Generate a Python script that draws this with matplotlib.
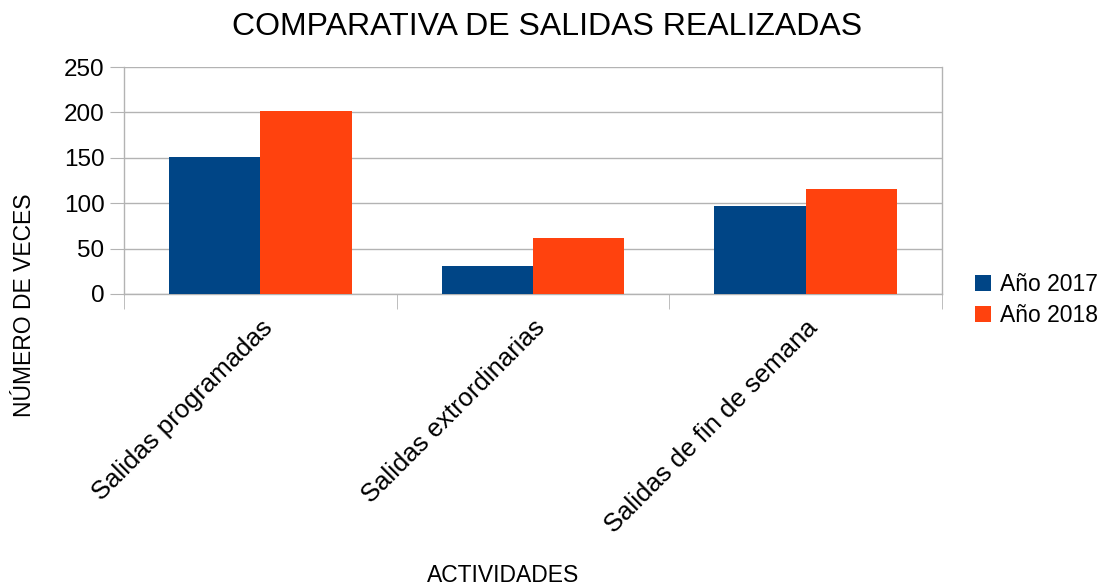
import matplotlib
matplotlib.use("Agg")
import matplotlib.pyplot as plt
import numpy as np
from matplotlib.patches import Patch

plt.rcParams['font.family'] = ['Liberation Sans', 'DejaVu Sans']

categorias = ["Salidas programadas", "Salidas extrordinarias", "Salidas de fin de semana"]
anio_2017 = [151, 31, 97]
anio_2018 = [201, 62, 116]
series = ["Año 2017", "Año 2018"]
colores = ["#004586", "#ff420e"]
y_ticks = [0, 50, 100, 150, 200, 250]

GRIS = "#b3b3b3"

fig = plt.figure(figsize=(11.08, 5.88), dpi=100)
ax = fig.add_axes([124 / 1108, 1 - 294 / 588, (942 - 124) / 1108, (294 - 67) / 588])

x = np.arange(len(categorias))
ancho = 0.335
ax.bar(x - ancho / 2, anio_2017, ancho, color=colores[0], zorder=3)
ax.bar(x + ancho / 2, anio_2018, ancho, color=colores[1], zorder=3)

ax.set_xlim(-0.5, len(categorias) - 0.5)
ax.set_ylim(0, 250)
ax.set_yticks(y_ticks)
ax.yaxis.grid(True, color=GRIS, linewidth=1, zorder=0)
ax.tick_params(axis='y', length=10, color=GRIS, labelsize=17.5, pad=4)

ax.set_xticks(x)
ax.set_xticklabels(categorias, rotation=45, ha='right', va='top',
                   rotation_mode='anchor', fontsize=18.5)
ax.tick_params(axis='x', which='major', length=0, pad=15.5)
ax.set_xticks(np.arange(-0.5, len(categorias)), minor=True)
ax.tick_params(axis='x', which='minor', length=11, color=GRIS)

for side in ('left', 'right', 'bottom'):
    ax.spines[side].set_color(GRIS)
    ax.spines[side].set_linewidth(1)
ax.spines['top'].set_visible(False)

fig.text(547 / 1108, 1 - 27 / 588, "COMPARATIVA DE SALIDAS REALIZADAS",
         ha='center', va='center', fontsize=23)
fig.text(25 / 1108, 1 - 305 / 588, "NÚMERO DE VECES", rotation=90,
         ha='center', va='center', fontsize=16.5)
fig.text(503 / 1108, 1 - 575 / 588, "ACTIVIDADES",
         ha='center', va='center', fontsize=16.5)

handles = [Patch(facecolor=c, edgecolor='none') for c in colores]
fig.legend(handles, series, loc='center left',
           bbox_to_anchor=(966 / 1108, 1 - 300 / 588), frameon=False,
           fontsize=16.5, handlelength=0.7, handleheight=0.7,
           handletextpad=0.4, labelspacing=0.35, borderaxespad=0)

fig.savefig("out.png", dpi=100)
